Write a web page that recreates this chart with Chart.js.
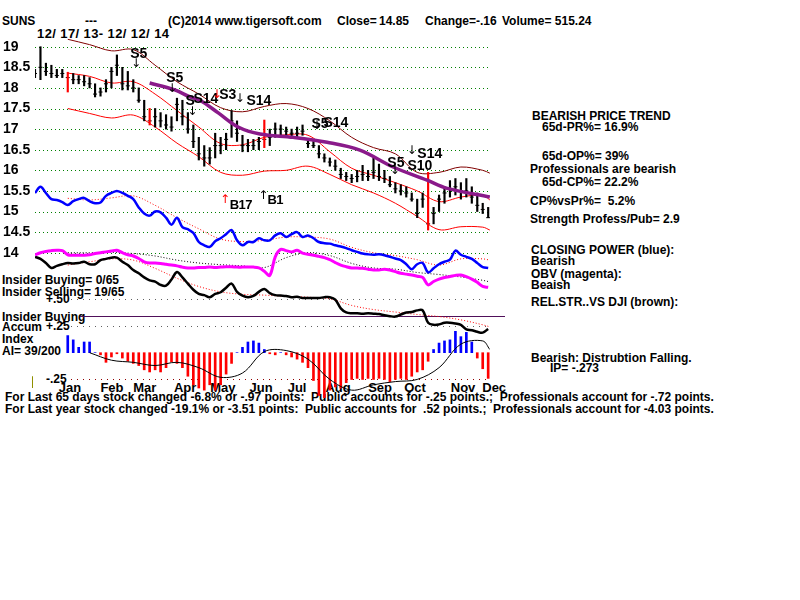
<!DOCTYPE html>
<html>
<head>
<meta charset="utf-8">
<title>SUNS</title>
<script src="https://cdn.jsdelivr.net/npm/chart.js@4.4.1/dist/chart.umd.min.js"></script>
<style>
  html, body { margin: 0; padding: 0; background: #fff; }
  #wrap { position: relative; width: 800px; height: 600px; overflow: hidden; }
  #under, #over { position: absolute; left: 0; top: 0; width: 800px; height: 600px; }
  #under { z-index: 0; }
  #chart { position: absolute; left: 0; top: 0; z-index: 1; }
  #over { z-index: 2; }
  .t { position: absolute; white-space: pre; font-family: "Liberation Sans", Arial, sans-serif;
       font-weight: bold; font-size: 12px; line-height: 12px; color: #000; }
  .big { font-size: 13px; line-height: 13px; letter-spacing: 0.4px; }
  .sig { font-size: 14px; line-height: 14px; transform: translate(-50%, -50%); }
  .nar { font-size: 13px; letter-spacing: -0.5px; }
  .arr { font-family: "DejaVu Sans", sans-serif; font-weight: normal; font-size: 12px; line-height: 12px; transform: translate(-50%, -50%); }
  .mid { transform: translate(-50%, -50%); font-size: 13px; line-height: 13px; }
</style>
</head>
<body>
<div id="wrap">
  <div id="under"></div>
  <canvas id="chart" width="800" height="600"></canvas>
  <div id="over"></div>
</div>
<script>
// ===== Данные =====
// sample = every 3rd trading day, 12/17/13 .. 12/12/14
const priceTicks = [14, 14.5, 15, 15.5, 16, 16.5, 17, 17.5, 18, 18.5, 19];
const monthNames = ['Jan', 'Feb', 'Mar', 'Apr', 'May', 'Jun', 'Jul', 'Aug', 'Sep', 'Oct', 'Nov', 'Dec'];
const monthAt = [6.4, 14.1, 20.1, 27.5, 34.4, 41.4, 48.0, 55.5, 63.2, 69.6, 78.4, 84.1];

const hi = [18.45, 19.0, 18.6, 18.55, 18.45, 18.45, 18.38, 18.35, 18.3, 18.3,
            18.25, 18.1, 18.0, 18.2, 18.5, 18.8, 18.5, 18.4, 18.2, 18.0,
            17.7, 17.5, 17.5, 17.4, 17.35, 17.3, 17.75, 17.7, 17.4, 17.1,
            16.8, 16.6, 16.55, 16.9, 16.8, 16.9, 17.45, 17.2, 16.85, 16.75,
            16.75, 16.8, 17.22, 17.0, 17.15, 17.1, 17.05, 17.0, 17.05, 17.1,
            16.75, 16.7, 16.6, 16.4, 16.3, 16.25, 16.05, 15.95, 15.9, 16.0,
            16.12, 16.0, 16.3, 16.15, 16.0, 15.85, 15.7, 15.65, 15.6, 15.45,
            15.3, 15.45, 15.95, 15.1, 15.4, 15.6, 15.75, 15.8, 15.7, 15.8,
            15.6, 15.45, 15.2, 15.1];
const lo = [18.25, 18.2, 18.3, 18.25, 18.25, 18.25, 17.9, 18.1, 18.1, 18.05,
            18.0, 17.78, 17.8, 17.9, 18.0, 18.3, 17.95, 17.95, 17.9, 17.65,
            17.2, 17.1, 17.05, 17.05, 17.0, 16.95, 17.2, 17.1, 16.9, 16.55,
            16.25, 16.1, 16.15, 16.3, 16.4, 16.5, 16.8, 16.7, 16.45, 16.45,
            16.5, 16.5, 16.55, 16.6, 16.8, 16.85, 16.85, 16.8, 16.8, 16.85,
            16.55, 16.55, 16.3, 16.2, 16.1, 16.0, 15.8, 15.75, 15.7, 15.72,
            15.75, 15.75, 15.8, 15.75, 15.7, 15.6, 15.45, 15.4, 15.35, 15.25,
            14.85, 15.1, 14.55, 14.7, 15.0, 15.2, 15.35, 15.4, 15.3, 15.35,
            15.2, 15.0, 14.95, 14.85];
const cl = [18.35, 18.5, 18.4, 18.35, 18.3, 18.35, 18.25, 18.2, 18.2, 18.15,
            18.1, 17.85, 17.9, 18.1, 18.4, 18.55, 18.1, 18.05, 18.0, 17.7,
            17.3, 17.2, 17.3, 17.2, 17.1, 17.05, 17.6, 17.3, 17.0, 16.7,
            16.4, 16.3, 16.3, 16.6, 16.6, 16.75, 17.2, 16.9, 16.6, 16.6,
            16.6, 16.7, 16.75, 16.8, 17.0, 17.0, 16.95, 16.9, 16.9, 16.95,
            16.65, 16.6, 16.4, 16.3, 16.2, 16.1, 15.9, 15.85, 15.8, 15.85,
            15.9, 15.85, 15.95, 15.85, 15.8, 15.65, 15.55, 15.5, 15.45, 15.3,
            14.95, 15.3, 14.7, 14.95, 15.3, 15.45, 15.55, 15.6, 15.5, 15.5,
            15.35, 15.15, 15.05, 14.85];
const redBars = [6, 21, 42, 72];

// Closing Power (blue)
const cp = [15.45, 15.6, 15.45, 15.3, 15.28, 15.23, 15.16, 15.25, 15.3, 15.33,
            15.25, 15.2, 15.22, 15.38, 15.45, 15.5, 15.45, 15.38, 15.3, 15.1,
            14.95, 14.9, 15.0, 14.98, 14.85, 14.68, 14.85, 14.62, 14.57, 14.48,
            14.26, 14.18, 14.14, 14.28, 14.35, 14.45, 14.55, 14.3, 14.18, 14.26,
            14.26, 14.35, 14.3, 14.3, 14.42, 14.47, 14.38, 14.45, 14.5, 14.38,
            14.42, 14.35, 14.26, 14.23, 14.22, 14.18, 14.15, 14.11, 14.06, 14.02,
            13.98, 13.96, 13.95, 13.96, 13.94, 13.9, 13.86, 13.82, 13.72, 13.6,
            13.72, 13.75, 13.52, 13.62, 13.72, 13.78, 13.83, 14.05, 13.95, 13.9,
            13.85, 13.75, 13.65, 13.63];
// OBV (magenta)
const obv = [13.95, 14.0, 14.03, 14.05, 14.06, 14.05, 13.95, 13.94, 13.94, 13.94,
             13.95, 13.98, 14.0, 14.02, 14.04, 14.06, 14.0, 13.95, 13.92, 13.86,
             13.78, 13.75, 13.75, 13.74, 13.72, 13.7, 13.68, 13.65, 13.63, 13.63,
             13.64, 13.64, 13.65, 13.64, 13.65, 13.66, 13.66, 13.65, 13.65, 13.65,
             13.65, 13.63, 13.55, 13.45, 13.9, 14.08, 14.05, 14.02, 14.06, 13.99,
             13.96, 13.94, 13.91, 13.88, 13.83, 13.76, 13.7, 13.66, 13.63, 13.63,
             13.62, 13.6, 13.58, 13.58, 13.6, 13.58, 13.54, 13.5, 13.48, 13.46,
             13.43, 13.4, 13.22, 13.3, 13.36, 13.4, 13.42, 13.45, 13.46, 13.42,
             13.36, 13.28, 13.18, 13.16];
// Rel. strength vs DJI (black)
const rs = [13.9, 13.85, 13.75, 13.63, 13.68, 13.72, 13.75, 13.74, 13.75, 13.78,
            13.72, 13.72, 13.82, 13.85, 13.88, 13.88, 13.78, 13.7, 13.58, 13.5,
            13.4, 13.33, 13.3, 13.22, 13.2, 13.35, 13.53, 13.4, 13.25, 13.1,
            13.0, 12.97, 12.92, 13.0, 13.04, 13.15, 13.25, 13.05, 12.96, 12.92,
            12.95, 13.05, 13.12, 13.02, 12.97, 12.96, 12.95, 12.92, 12.93, 12.9,
            12.9, 12.9, 12.9, 12.92, 12.92, 12.86, 12.65, 12.55, 12.53, 12.53,
            12.52, 12.53, 12.52, 12.51, 12.48, 12.46, 12.45, 12.5, 12.55, 12.56,
            12.6, 12.6, 12.3, 12.25, 12.26, 12.3, 12.3, 12.28, 12.25, 12.14,
            12.12, 12.08, 12.06, 12.15];
// Accumulation index
const ai = [null, null, null, null, null, null, 0.16, 0.12, 0.05, 0.1,
            0.1, 0.0, -0.02, -0.09, -0.04, -0.01, -0.05, -0.08, -0.1, -0.12,
            -0.16, -0.18, -0.16, -0.18, -0.14, -0.085, -0.1, -0.14, -0.22, -0.3,
            -0.33, -0.35, -0.3, -0.35, -0.3, -0.2, -0.1, 0.0, 0.05, 0.1,
            0.11, 0.09, 0.03, -0.01, -0.02, 0.0, -0.02, -0.04, -0.06, -0.09,
            -0.14, -0.26, -0.4, -0.42, -0.35, -0.32, -0.33, -0.28, -0.25, -0.24,
            -0.25, -0.24, -0.25, -0.24, -0.25, -0.27, -0.25, -0.24, -0.25, -0.22,
            -0.18, -0.16, -0.08, 0.03, 0.09, 0.11, 0.12, 0.2, 0.15, 0.19,
            0.1, -0.05, -0.15, -0.24];

// smooth lines, read at these samples
const smoothAt = [6, 10, 14, 18, 22, 26, 30, 34, 38, 42, 46, 50, 54, 58, 62, 66, 70, 74, 78, 82, 83.3];
const bandOuter = [19.18, 19.05, 18.9, 18.93, 18.55, 18.15, 17.85, 17.52, 17.42, 17.55, 17.62, 17.5, 17.2, 16.8, 16.55, 16.4, 15.95, 15.95, 16.08, 16.0, 15.93];
const bandUp = [18.36, 18.28, 18.12, 18.15, 17.85, 17.45, 17.05, 16.65, 16.62, 16.8, 16.86, 16.85, 16.45, 16.05, 15.88, 15.7, 15.5, 15.24, 15.35, 15.4, 15.28];
const bandLow = [17.5, 17.38, 17.27, 17.34, 17.05, 16.66, 16.33, 15.95, 15.88, 15.98, 16.0, 16.1, 15.9, 15.65, 15.45, 15.2, 14.88, 14.56, 14.63, 14.62, 14.55];
const cpAvg = [15.32, 15.28, 15.33, 15.38, 15.15, 14.85, 14.58, 14.33, 14.27, 14.3, 14.38, 14.38, 14.33, 14.13, 14.0, 13.93, 13.83, 13.7, 13.85, 13.85, 13.82];
const obvAvg = [14.0, 14.0, 14.01, 13.98, 13.92, 13.82, 13.75, 13.71, 13.68, 13.64, 13.88, 14.0, 13.93, 13.74, 13.63, 13.6, 13.52, 13.47, 13.41, 13.33, 13.29];
const rsAvg = [13.7, 13.78, 13.85, 13.82, 13.62, 13.38, 13.18, 13.05, 12.99, 12.97, 12.94, 12.92, 12.88, 12.72, 12.62, 12.56, 12.5, 12.45, 12.37, 12.25, 12.2];

const ma65At = [21, 25.6, 28.4, 30.2, 33.5, 37.2, 41.2, 47.3, 53.5, 59.5, 65.6, 71.8, 75.5, 83.3];
const ma65 = [18.12, 17.95, 17.78, 17.7, 17.4, 17.05, 16.88, 16.8, 16.68, 16.49, 16.08, 15.76, 15.56, 15.35];

const aiAvgAt = [10, 14, 18, 22, 26, 30, 34, 38, 42, 46, 50, 54, 58, 62, 66, 70, 74, 78, 82, 83.3];
const aiAvg = [0.0, -0.07, -0.09, -0.12, -0.09, -0.14, -0.23, -0.19, 0.01, 0.02, -0.06, -0.25, -0.35, -0.3, -0.27, -0.25, -0.14, 0.08, 0.11, 0.03];

const aiGuides = [0.5, 0.25, -0.25];
const aiGuideLabels = ['+.50', '+.25', '-.25'];
const insiderLevel = 0.343;

// signals: sample, price, text
const signals = [
    [19.0, 18.85, 'S5'], [25.6, 18.26, 'S5'], [28.4, 17.7, 'S'], [31.3, 17.75, 'S14'],
    [35.3, 17.85, 'S3'], [41.0, 17.7, 'S14'], [52.2, 17.15, 'S5'], [55.1, 17.17, 'S14'],
    [66.1, 16.2, 'S5'], [70.5, 16.12, 'S10'], [72.3, 16.42, 'S14'],
    [37.7, 15.15, 'B17'], [44.0, 15.28, 'B1']
];
const arrows = [
    [18.5, 18.6, '↓', '#000'], [25.1, 18.0, '↓', '#000'], [28.8, 17.45, '↓', '#000'],
    [33.3, 17.85, '↓', '#f00'], [37.5, 17.75, '↓', '#000'], [51.6, 17.1, '↓', '#000'],
    [65.9, 16.0, '↓', '#000'], [69.0, 16.5, '↓', '#000'],
    [34.8, 15.3, '↑', '#f00'], [41.8, 15.4, '↑', '#000']
];

// ===== Layout =====
const area = { top: 30, bottom: 410, left: 35, right: 490 };
const pricePx = 41.2, price19Y = 46.7;      // pixels per 1.00, y of 19
const aiPx = 107, aiZeroY = 352.7;          // pixels per 1.00, y of 0

const pairs = (xs, ys) => xs.map((x, k) => ({ x: x, y: ys[k] }));
const seq = ys => ys.map((y, i) => ({ x: i, y: y }));

// ===== Плагин: сетка и линии панели AI =====
const panelLines = {
    id: 'panelLines',
    beforeDatasetsDraw(chart) {
        const ctx = chart.ctx;
        const a = chart.chartArea;
        const yP = chart.scales.yP, yA = chart.scales.yA;
        ctx.save();
        ctx.lineWidth = 1;
        ctx.strokeStyle = '#008000';
        ctx.setLineDash([1, 3]);
        priceTicks.forEach(v => {
            const y = Math.round(yP.getPixelForValue(v)) + 0.5;
            ctx.beginPath(); ctx.moveTo(a.left, y); ctx.lineTo(a.right, y); ctx.stroke();
        });
        ctx.setLineDash([1, 5]);
        aiGuides.forEach((v, k) => {
            const y = Math.round(yA.getPixelForValue(v)) + 0.5;
            ctx.strokeStyle = k === 2 ? '#900000' : '#606060';
            ctx.beginPath(); ctx.moveTo(a.left + 36, y); ctx.lineTo(a.right, y); ctx.stroke();
        });
        ctx.setLineDash([]);
        ctx.strokeStyle = '#50105a';
        const yi = Math.round(yA.getPixelForValue(insiderLevel)) + 0.5;
        ctx.beginPath(); ctx.moveTo(a.left + 45, yi); ctx.lineTo(a.right + 15, yi); ctx.stroke();
        ctx.strokeStyle = '#909000';
        const y0 = yA.getPixelForValue(-0.22), y1 = yA.getPixelForValue(-0.33);
        ctx.beginPath(); ctx.moveTo(a.left - 2.5, y0); ctx.lineTo(a.left - 2.5, y1); ctx.stroke();
        ctx.restore();
    }
};

function lineSet(data, axis, color, width, dash, order) {
    return {
        type: 'line', data: data, yAxisID: axis, borderColor: color, borderWidth: width,
        borderDash: dash || [], pointRadius: 0, tension: 0.35, fill: false, order: order
    };
}

const aiData = [];
ai.forEach((v, i) => { if (v !== null) aiData.push({ x: i, y: v }); });

const chart = new Chart(document.getElementById('chart'), {
    type: 'bar',
    data: {
        datasets: [
            lineSet(pairs(ma65At, ma65), 'yP', '#8a1a8a', 3.5, null, 1),
            {
                type: 'bar', yAxisID: 'yP', grouped: false, barThickness: 1.5, order: 2,
                data: hi.map((h, i) => ({ x: i, y: [lo[i], h] })),
                backgroundColor: hi.map((h, i) => redBars.includes(i) ? '#ff0000' : '#000000')
            },
            {
                type: 'scatter', yAxisID: 'yP', order: 2, data: seq(cl),
                pointStyle: 'line', pointRadius: 2, borderWidth: 1, borderColor: '#000', backgroundColor: '#000'
            },
            lineSet(pairs(smoothAt, bandOuter), 'yP', '#800000', 1, null, 3),
            lineSet(pairs(smoothAt, bandUp), 'yP', '#ff0000', 1, null, 3),
            lineSet(pairs(smoothAt, bandLow), 'yP', '#ff0000', 1, null, 3),
            lineSet(seq(cp), 'yP', '#0000ff', 2.5, null, 3),
            lineSet(seq(obv), 'yP', '#ff00ff', 3, null, 3),
            lineSet(seq(rs), 'yP', '#000000', 2.5, null, 3),
            lineSet(pairs(smoothAt, cpAvg), 'yP', '#ff0000', 1, [1, 2], 4),
            lineSet(pairs(smoothAt, obvAvg), 'yP', '#000000', 1, [1, 2], 4),
            lineSet(pairs(smoothAt, rsAvg), 'yP', '#ff0000', 1, [1, 2], 4),
            lineSet(pairs(aiAvgAt, aiAvg), 'yA', '#000000', 1, null, 4),
            {
                type: 'bar', yAxisID: 'yA', grouped: false, barThickness: 2, order: 5,
                data: aiData,
                backgroundColor: aiData.map(p => p.y >= 0 ? '#0000ff' : '#ff0000')
            }
        ]
    },
    options: {
        responsive: false,
        animation: false,
        devicePixelRatio: 1,
        layout: { padding: { left: 3, top: area.top, right: 800 - area.right, bottom: 600 - area.bottom } },
        plugins: { legend: { display: false }, tooltip: { enabled: false } },
        scales: {
            x: { type: 'linear', offset: false, min: 0, max: (area.right - area.left) / 5.46, display: false },
            yP: {
                type: 'linear', position: 'left',
                max: 19 + (price19Y - area.top) / pricePx,
                min: 19 - (area.bottom - price19Y) / pricePx,
                afterBuildTicks: s => { s.ticks = priceTicks.map(v => ({ value: v })); },
                afterFit: s => { s.width = area.left - 3; },
                grid: { display: false },
                border: { display: false },
                ticks: {
                    autoSkip: false, crossAlign: 'far', padding: 0, color: '#000',
                    font: { family: 'Liberation Sans', weight: 'bold', size: 14 },
                    callback: v => String(v)
                }
            },
            yA: {
                type: 'linear', display: false,
                max: (aiZeroY - area.top) / aiPx,
                min: -(area.bottom - aiZeroY) / aiPx
            }
        }
    },
    plugins: [panelLines]
});

// ===== Тексты =====
const under = document.getElementById('under');
const over = document.getElementById('over');

function put(layer, text, x, y, cls, color) {
    const d = document.createElement('div');
    d.className = 't' + (cls ? ' ' + cls : '');
    d.textContent = text;
    d.style.left = x + 'px';
    d.style.top = y + 'px';
    if (color) d.style.color = color;
    layer.appendChild(d);
    return d;
}

// fixed texts: text, left, cap top
const fixedTexts = [
    ['SUNS', 2, 17], ['---', 85, 17], ['(C)2014 www.tigersoft.com', 168, 17],
    ['Close=', 337, 17], ['14.85', 379, 17], ['Change=-.16', 425, 17], ['Volume= 515.24', 502, 17],
    ['BEARISH PRICE TREND', 532, 112],
    ['65d-PR%= 16.9%', 542, 123],
    ['65d-OP%= 39%', 542, 152],
    ['Professionals are bearish', 530, 165],
    ['65d-CP%= 22.2%', 542, 178],
    ['CP%vsPr%=  5.2%', 530, 197],
    ['Strength Profess/Pub= 2.9', 530, 215],
    ['CLOSING POWER (blue):', 531, 246],
    ['Bearish', 531, 257],
    ['OBV (magenta):', 531, 270],
    ['Beaish', 531, 281],
    ['REL.STR..VS DJI (brown):', 531, 298],
    ['Bearish: Distrubtion Falling.', 531, 354],
    ['IP= -.273', 550, 364],
    ['Insider Buying= 0/65', 2, 276],
    ['Insider Selling= 19/65', 2, 288],
    ['Insider Buying', 2, 313],
    ['Accum', 2, 323],
    ['Index', 2, 335],
    ['AI= 39/200', 2, 347],
    ['For Last 65 days stock changed -6.8% or -.97 points:  Public accounts for -.25 points.;  Professionals account for -.72 points.', 5, 393],
    ['For Last year stock changed -19.1% or -3.51 points:  Public accounts for  .52 points.;  Professionals account for -4.03 points.', 5, 405]
];
fixedTexts.forEach(t => put(under, t[0], t[1], t[2] - 2));
put(under, '12/ 17/ 13- 12/ 12/ 14', 37, 27, 'big');

const xs = chart.scales.x, yP = chart.scales.yP, yA = chart.scales.yA;

aiGuides.forEach((v, k) => {
    put(under, aiGuideLabels[k], area.left + 11, Math.round(yA.getPixelForValue(v)) - 6);
});

monthNames.forEach((m, k) => {
    put(under, m, xs.getPixelForValue(monthAt[k]), 387, 'mid');
});

signals.forEach(s => {
    const cls = s[2][0] === 'B' ? 'sig nar' : 'sig';
    put(over, s[2], xs.getPixelForValue(s[0]), yP.getPixelForValue(s[1]), cls);
});
arrows.forEach(a => {
    put(over, a[2], xs.getPixelForValue(a[0]), yP.getPixelForValue(a[1]), 'arr', a[3]);
});
</script>
</body>
</html>
